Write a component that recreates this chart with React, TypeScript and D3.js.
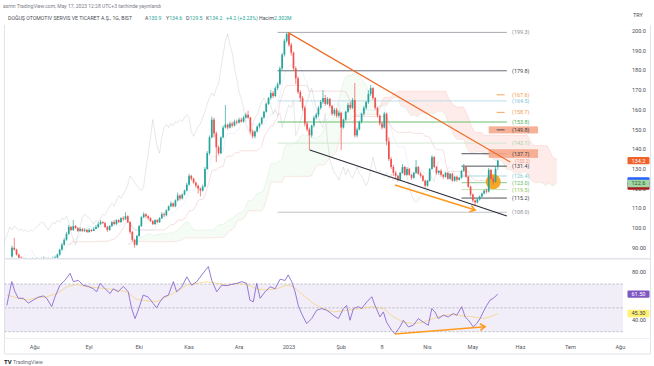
import React from 'react';
import * as d3 from 'd3';

// ---------- DATA ----------
const closes = [
  90, 89, 86.5, 85, 84.5, 83.5, 84, 83, 83.5, 84,
  83.5, 84, 83, 84, 84.5, 83.5, 84, 83.5, 84.5, 85,
  86.5, 89, 91.5, 94, 97, 100.5, 99, 101, 100, 98.5,
  99.5, 98.5, 99, 98, 99, 98.5, 99.5, 100.5, 102, 103,
  102.5, 100.5, 99, 101, 103, 102, 104, 103, 105, 104.5,
  106, 103, 98, 94, 91.5, 96, 101, 105.5, 107, 106,
  105, 103.5, 102, 104, 103, 105, 107, 106.5, 109, 111,
  112.5, 111, 114, 116.5, 115, 117, 119, 122, 126.5, 125,
  123, 121.5, 120, 119, 121, 130, 138, 146, 155, 148,
  141, 138, 146, 151, 152.5, 151, 153, 152, 154, 153.5,
  155, 154, 156, 157.5, 156, 149, 146.5, 149, 151.5, 153,
  156, 159, 163, 166, 168.5, 167, 171, 173, 181, 188,
  195, 198.5, 193, 189, 181, 176, 169, 166, 161, 153,
  150, 147, 152, 156, 157.5, 161, 164, 166, 163, 165.5,
  162, 158, 160, 157, 158.5, 151, 155, 159, 162.5, 161,
  165, 147, 150, 154, 158, 161, 164, 168, 171, 166,
  161, 157, 153, 151, 158, 144, 135, 131, 128, 126.5,
  124.5, 128, 131, 127, 130, 127, 125.5, 128, 131, 127.5,
  126.5, 124, 121.5, 124, 130, 136, 131, 128, 129, 127,
  126, 128, 125, 127.5, 124, 126, 124.5, 125.5, 129, 131,
  126, 121, 117, 114, 113, 114.5, 116, 117.5, 119, 118.5,
  129.5, 125, 123.5, 130, 134.2,
];
const highs = [
  91, 95, 89.5, 87, 85.5, 85, 85, 84.5, 84.5, 85,
  84.5, 85, 84.5, 85, 85.5, 85, 85, 84.5, 85.5, 86,
  87, 89.5, 92.5, 95, 98, 101.5, 101, 104, 101.5, 100.5,
  100.5, 100, 100, 99.5, 100, 99.5, 100.5, 101.5, 103, 104,
  103.5, 103, 101, 101.5, 103.5, 104, 104.5, 104.5, 105.5, 106,
  108, 106.5, 103.5, 98.5, 94.5, 96.5, 101.5, 106, 108, 107.5,
  106.5, 105.5, 104, 104.5, 104.5, 105.5, 108, 108, 109.5, 111.5,
  113.5, 113, 114.5, 118, 117, 117.5, 119.5, 123, 127.5, 127,
  125.5, 123.5, 122, 120.5, 122, 131, 139, 147, 156.5, 156,
  149, 142, 146.5, 152, 162.4, 153, 154, 154, 155, 155,
  156, 156, 157, 158.5, 159.5, 156.5, 150, 149.5, 152, 153.5,
  156.5, 159.5, 163.5, 166.5, 170, 169.5, 172, 174, 182, 189,
  196, 199.3, 199, 194, 189.5, 182, 177, 170, 167, 162,
  154, 151, 152.5, 157, 158.5, 162, 165, 170, 167.5, 166.5,
  166, 162.5, 161, 161, 159.5, 159, 155.5, 159.5, 163.5, 164,
  166, 173.6, 151, 154.5, 158.5, 162, 164.5, 170, 172.6, 171.5,
  166.5, 161.5, 157.5, 154, 159, 158.5, 146, 136, 132, 129,
  127, 128.5, 132.5, 131.5, 131, 130.5, 127.5, 128.5, 134.5, 131.5,
  128.5, 127, 124.5, 124.5, 130.5, 137, 136.5, 131.5, 129.5, 130,
  127.5, 128.5, 128.5, 128, 128, 126.5, 126.5, 126, 129.5, 132.5,
  131.5, 126.5, 121.5, 117.5, 114.5, 115, 116.5, 118, 119.5, 120,
  130.5, 130, 126, 131, 134.6,
];
const lows = [
  85, 88.5, 86, 84, 83.5, 82.5, 83, 82, 82.5, 83,
  82.5, 83, 82, 82.5, 83.5, 82.5, 83, 82.5, 83.5, 84,
  84.5, 86, 88.5, 91, 93.5, 96.5, 98.5, 98.5, 99.5, 98,
  98, 98, 98, 97.5, 97.5, 98, 98.5, 99.5, 100, 101.5,
  102, 100, 98, 98.5, 100.5, 101.5, 101.5, 102.5, 102.5, 103.5,
  104, 102.5, 97, 93, 90, 91, 95.5, 100.5, 105, 105,
  104, 103, 101.5, 101.5, 102.5, 102.5, 104.5, 105.5, 106, 108.5,
  110.5, 110.5, 110.5, 113.5, 114, 114.5, 116.5, 118.5, 121.5, 124,
  122.5, 120.5, 117.5, 116, 118.5, 120.5, 129.5, 137, 145.5, 146,
  133.5, 137, 137.5, 145.5, 150.5, 150, 150.5, 151, 151.5, 152.5,
  153, 153.5, 153.5, 155.5, 155.5, 148, 145.5, 145.5, 148.5, 150.5,
  152.5, 155.5, 158.5, 162.5, 165, 166, 166.5, 170, 172.5, 180,
  187, 194, 192, 187.5, 180, 173, 168, 164, 159.5, 151.5,
  149, 139.6, 146, 151, 155, 156.5, 160, 163, 162, 162.5,
  161, 157, 157, 156, 156, 139.6, 150.5, 154.5, 158.5, 160,
  160.5, 146, 146, 149.5, 153, 157, 160, 163, 167, 165,
  160, 156, 152, 150, 150.5, 142, 134, 130, 126.5, 125,
  123.5, 124, 127.5, 126.5, 126.5, 126.5, 124.5, 125, 127.5, 127,
  125.5, 123.5, 120.5, 121, 123.5, 129.5, 130.5, 127, 127, 126,
  125, 125.5, 124.5, 124.5, 123.5, 123.5, 123.5, 124, 125, 128.5,
  125.5, 120.5, 116, 113, 111.2, 112.5, 114, 115.5, 117, 117.5,
  118, 124.5, 122, 123, 129.5,
];
const firstOpen = 85.5;
const lastOpen = 130.9;

const monthLabels = ['Ağu', 'Eyl', 'Eki', 'Kas', 'Ara', '2023', 'Şub', '8', 'Nis', 'May', 'Haz', 'Tem', 'Ağu'];
const monthBars = [10, 34, 56, 78, 100, 122, 145, 163, 183, 203, 224, 246, 268];

const priceTicks = [90, 100, 110, 120, 130, 140, 150, 160, 170, 180, 190, 200];
const rsiTicks = [80, 40];
const rsiGuides = [70, 50, 30];

const rsiPoints: [number, number][] = [
  [-2.3, 52], [-0.1, 72], [1.3, 63.5], [2.8, 58], [5, 58], [7.2, 54], [9.4, 56.5], [11.6, 59], [13.8, 60], [15.3, 58],
  [17.5, 51], [18.9, 59], [21.1, 69], [23.3, 73], [25.6, 79], [27, 72], [29.2, 73], [31.4, 69], [33.6, 68], [35.8, 66],
  [37.3, 63.5], [38.8, 70.5], [41, 66], [43.2, 62], [44.6, 66], [46.8, 63.5], [49, 68], [51.2, 63.5], [52.7, 49.5], [54.2, 41],
  [55.6, 48], [57.8, 60.7], [60, 59], [62.2, 53.7], [63.7, 50], [65.2, 55], [66.7, 59], [68.9, 60.7], [71.1, 72], [72.5, 63.5],
  [74.8, 67.7], [77, 76], [79.2, 69], [81.4, 72], [83.6, 77.6], [86.5, 84.6], [88, 73], [90.2, 63.5], [92.4, 69], [94.6, 68.6],
  [96.8, 69.7], [99, 70.5], [101.2, 72], [103.4, 70.5], [104.8, 56.5], [106.3, 55], [107.8, 70.5], [109.3, 58], [111.5, 63.5], [113.7, 67.7],
  [115.9, 66], [118.1, 74], [120.3, 73], [121.7, 77.6], [123.2, 72], [124.7, 63.5], [126.1, 52], [127.6, 45], [129.8, 36.8], [132, 41],
  [134.2, 48], [136.4, 49.4], [138.6, 48], [140.1, 46], [141.5, 43.8], [143.8, 41], [146, 49.4], [147.4, 52], [148.9, 39.6], [150.4, 49.4],
  [152.6, 51], [154, 49.4], [156.3, 55], [158.5, 59.3], [159.9, 52], [162.1, 42.4], [163.6, 46.6], [165, 38], [167.3, 31], [168.7, 28.3],
  [170.9, 34], [172.4, 39.6], [174.6, 34], [176.8, 35.4], [179, 41], [181.2, 38], [183.4, 35.4], [184.9, 49.4], [186.3, 46.6], [187.8, 41],
  [190, 43.8], [192.2, 42.4], [194.4, 45.2], [195.9, 43.8], [198.1, 51], [199.6, 42.4], [201.1, 39.6], [203.2, 34], [204.7, 36.8], [206.2, 41],
  [207.6, 46.6], [209.1, 52], [210.6, 56.5], [212, 58], [214, 61.5],
];
const rsiMaPoints: [number, number][] = [
  [-2.3, 60.7], [2.1, 58.5], [6.5, 56.5], [10.9, 58.5], [15.3, 59.3], [19.7, 62], [24.1, 67.7], [28.5, 69.7], [32.9, 67.7], [37.3, 67],
  [41.7, 66], [46.1, 65], [50.5, 63.5], [54.9, 57], [59.3, 56], [63.7, 55], [68.1, 59.3], [72.5, 63.5], [77, 69], [81.4, 70.5],
  [85.8, 72], [90.2, 70.5], [94.6, 69], [99, 70.5], [103.4, 69.7], [107.8, 66], [112.2, 65], [116.6, 66], [121, 69], [123.9, 67.7],
  [128.3, 60.7], [132.7, 53.7], [137.1, 49.4], [141.5, 46.6], [147.4, 48], [153.3, 49.4], [159.2, 51], [163.6, 49.4], [168, 42.4], [172.4, 38],
  [176.8, 36.8], [181.2, 38], [185.6, 41], [190, 43.8], [194.4, 44.4], [198.8, 43.2], [203.2, 42.4], [207.6, 41], [210.6, 42.4], [214, 45.3],
];

// horizontal levels (drawings)
const longLevels = [199.3, 179.8, 164.5, 153.8, 143.1, 108.0];
const longLevelColors = ['#a6a9b0', '#6a6d78', '#bcdbe8', '#6cbf6f', '#cfe6cf', '#bfc2c8'];
const shortLevels = [137.7, 131.4, 126.4, 123.0, 119.5, 115.2];
const shortLevelColors = ['#50535e', '#50535e', '#a6d8de', '#86c98a', '#c2e2b2', '#50535e'];
const dashLevels = [167.6, 158.7, 149.8];
const dashLevelColors = ['#f7a35c', '#f7a35c', '#50535e'];
const labelPrices = [199.3, 179.8, 167.6, 164.5, 158.7, 153.8, 149.8, 143.1, 137.7, 133.2, 131.4, 126.4, 123.0, 119.5, 115.2, 108.0];
const labelColors = ['#8a8d96', '#3a3d46', '#f29a4a', '#86bedb', '#f29a4a', '#4caf50', '#3a3d46', '#a3d1a3', '#3a3d46', '#f0906e', '#3a3d46', '#80c8d0', '#5cb860', '#8bc34a', '#3a3d46', '#8a8d96'];
const boxTops = [151.6, 140.0];
const boxBottoms = [148.0, 135.6];

const orangeTrend: [number, number][] = [[121.5, 199.3], [219.5, 133.5]];
const blackTrend: [number, number][] = [[131.2, 139.6], [218, 106.1]];
const priceArrow: [number, number][] = [[168.7, 121.8], [204, 109.1]];
const rsiArrow: [number, number][] = [[168.7, 28.1], [208.4, 34.2]];
const circleMark: [number, number] = [212, 123.5];

const lastPrice = 134.2;
const ichiBadgeValues = [123.9, 121.3, 122.6];
const rsiLast = 61.5;
const rsiMaLast = 45.3;

// ---------- CHART ----------
const FONT = "Roboto, 'Liberation Sans', Arial, sans-serif";
const PL = 4.5, PR = 623, MT = 25, MB = 258, RT = 259.5, RB = 338;

export default function App() {
  const N = closes.length;
  const x = d3.scaleLinear().domain([0, N - 1]).range([12, 497.8]);
  const y = d3.scaleLinear().domain([90, 200]).range([247.7, 31]);
  const yr = d3.scaleLinear().domain([30, 70]).range([331.7, 284]);

  const opens = closes.map((c, i) => (i === 0 ? firstOpen : i === N - 1 ? lastOpen : closes[i - 1]));
  const mid = (i: number, len: number) => {
    const s = Math.max(0, i - len + 1);
    const hi = d3.max(highs.slice(s, i + 1)) as number;
    const lo = d3.min(lows.slice(s, i + 1)) as number;
    return (hi + lo) / 2;
  };
  const idx = d3.range(N);
  const tenkan = idx.map((i) => mid(i, 9));
  const kijun = idx.map((i) => mid(i, 26));
  const cloud = idx.filter((i) => i >= 25).map((i) => ({ b: i + 26, a: (tenkan[i] + kijun[i]) / 2, s: mid(i, 52) }));

  const lineP = d3.line<[number, number]>().x((d) => x(d[0])).y((d) => y(d[1]));
  const lineR = d3.line<[number, number]>().x((d) => x(d[0])).y((d) => yr(d[1]));
  const greenArea = d3.area<any>().x((d) => x(d.b)).y0((d) => y(d.s)).y1((d) => y(Math.max(d.a, d.s)));
  const redArea = d3.area<any>().x((d) => x(d.b)).y0((d) => y(d.a)).y1((d) => y(Math.max(d.a, d.s)));

  const tenkanPts = idx.filter((i) => i >= 8).map((i) => [i, tenkan[i]] as [number, number]);
  const kijunPts = idx.filter((i) => i >= 25).map((i) => [i, kijun[i]] as [number, number]);
  const chikouPts = idx.map((i) => [i - 26, closes[i]] as [number, number]);
  const spanAPts = cloud.map((c) => [c.b, c.a] as [number, number]);
  const spanBPts = cloud.map((c) => [c.b, c.s] as [number, number]);

  const arrowHead = (p1: [number, number], p2: [number, number], s: number) => {
    const a = Math.atan2(p2[1] - p1[1], p2[0] - p1[0]);
    const l = [p2[0] + s * Math.cos(a + 2.55), p2[1] + s * Math.sin(a + 2.55)];
    const r = [p2[0] + s * Math.cos(a - 2.55), p2[1] + s * Math.sin(a - 2.55)];
    return `M${l[0]},${l[1]}L${p2[0]},${p2[1]}L${r[0]},${r[1]}`;
  };
  const pa1: [number, number] = [x(priceArrow[0][0]), y(priceArrow[0][1])];
  const pa2: [number, number] = [x(priceArrow[1][0]), y(priceArrow[1][1])];
  const ra1: [number, number] = [x(rsiArrow[0][0]), yr(rsiArrow[0][1])];
  const ra2: [number, number] = [x(rsiArrow[1][0]), yr(rsiArrow[1][1])];

  const fmtP = (p: number) => (p < 100 ? p.toFixed(2) : p.toFixed(1));
  const axisColor = '#4a4d56';
  const badgeX = 627.5, badgeW = 22, badgeH = 7.4;

  return (
    <svg width={654} height={366} viewBox="0 0 654 366"
      style={{ position: 'absolute', left: 0, top: 0, background: '#fff', fontFamily: FONT }}>
      <defs>
        <clipPath id="mainClip"><rect x={PL} y={MT} width={PR - PL} height={MB - MT} /></clipPath>
        <clipPath id="rsiClip"><rect x={PL} y={RT} width={PR - PL} height={RB - RT} /></clipPath>
      </defs>
      <rect x={0} y={0} width={654} height={366} fill="#fff" />

      {/* header */}
      <text x={3} y={8} fontSize={5} fill="#7a7d86">asrnn TradingView.com, May 17, 2023 12:28 UTC+3 tarihinde yayınlandı</text>
      <g fontSize={5.2}>
        <text x={8} y={20} fill="#4a4d56">DOĞUŞ OTOMOTIV SERVIS VE TICARET A.Ş., 1G, BIST</text>
        <text x={145} y={20} fill="#4a4d56">A<tspan fill="#26a69a">130.9</tspan></text>
        <text x={166} y={20} fill="#4a4d56">Y<tspan fill="#26a69a">134.6</tspan></text>
        <text x={186} y={20} fill="#4a4d56">D<tspan fill="#26a69a">129.5</tspan></text>
        <text x={206} y={20} fill="#4a4d56">K<tspan fill="#26a69a">134.2</tspan></text>
        <text x={226} y={20} fill="#26a69a">+4.2 (+3.23%)</text>
        <text x={259} y={20} fill="#4a4d56">Hacim<tspan fill="#26a69a">2.302M</tspan></text>
      </g>
      <text x={638} y={17} fontSize={5.5} fill={axisColor} textAnchor="middle">TRY</text>

      {/* frame */}
      <line x1={PL} x2={PL} y1={MT} y2={354} stroke="#e0e3eb" strokeWidth={1} />
      <line x1={650.5} x2={650.5} y1={MT} y2={354} stroke="#e0e3eb" strokeWidth={1} />
      <line x1={PL} x2={650.5} y1={258.7} y2={258.7} stroke="#e0e3eb" strokeWidth={1.6} />
      <line x1={PL} x2={650.5} y1={338.5} y2={338.5} stroke="#eef0f3" strokeWidth={1} />
      <line x1={PL} x2={650.5} y1={354} y2={354} stroke="#e0e3eb" strokeWidth={1} />

      {/* main pane */}
      <g clipPath="url(#mainClip)">
        <path d={greenArea(cloud) || ''} fill="rgba(76,175,80,0.055)" />
        <path d={redArea(cloud) || ''} fill="rgba(244,100,80,0.12)" />
        <path d={lineP(spanAPts) || ''} fill="none" stroke="rgba(76,175,80,0.12)" strokeWidth={0.8} />
        <path d={lineP(spanBPts) || ''} fill="none" stroke="rgba(244,67,54,0.15)" strokeWidth={0.8} />
        <path d={lineP(chikouPts) || ''} fill="none" stroke="rgba(120,124,130,0.22)" strokeWidth={0.8} />
        <path d={lineP(kijunPts) || ''} fill="none" stroke="rgba(200,60,60,0.2)" strokeWidth={0.8} />
        <path d={lineP(tenkanPts) || ''} fill="none" stroke="rgba(41,98,255,0.1)" strokeWidth={0.8} />

        {longLevels.map((p, k) => (
          <line key={'ll' + k} x1={x(117)} x2={x(218)} y1={y(p)} y2={y(p)} stroke={longLevelColors[k]} strokeWidth={1} />
        ))}
        {shortLevels.map((p, k) => (
          <line key={'sl' + k} x1={x(198)} x2={x(218)} y1={y(p)} y2={y(p)} stroke={shortLevelColors[k]} strokeWidth={1} />
        ))}
        {boxTops.map((t, k) => (
          <rect key={'bx' + k} x={x(210)} y={y(t)} width={x(231.7) - x(210)} height={y(boxBottoms[k]) - y(t)} fill="#f5a98b" opacity={0.9} />
        ))}
        {dashLevels.map((p, k) => (
          <line key={'dl' + k} x1={x(213.5)} x2={x(217)} y1={y(p)} y2={y(p)} stroke={dashLevelColors[k]} strokeWidth={1} />
        ))}

        <circle cx={x(circleMark[0])} cy={y(circleMark[1])} r={7.5} fill="#f5a011" opacity={0.9} />

        {idx.map((i) => {
          const o = opens[i], c = closes[i];
          const col = c >= o ? '#26a69a' : '#ef5350';
          const top = y(Math.max(o, c)), bot = y(Math.min(o, c));
          return (
            <g key={i}>
              <line x1={x(i)} x2={x(i)} y1={y(highs[i])} y2={y(lows[i])} stroke={col} strokeWidth={0.7} />
              <rect x={x(i) - 0.85} y={top} width={1.7} height={Math.max(0.7, bot - top)} fill={col} />
            </g>
          );
        })}

        <line x1={x(orangeTrend[0][0])} y1={y(orangeTrend[0][1])} x2={x(orangeTrend[1][0])} y2={y(orangeTrend[1][1])} stroke="#ee6a25" strokeWidth={1.2} />
        <line x1={x(blackTrend[0][0])} y1={y(blackTrend[0][1])} x2={x(blackTrend[1][0])} y2={y(blackTrend[1][1])} stroke="#2a2e39" strokeWidth={1.2} />
        <line x1={pa1[0]} y1={pa1[1]} x2={pa2[0]} y2={pa2[1]} stroke="#ff9a1f" strokeWidth={1.6} />
        <path d={arrowHead(pa1, pa2, 6)} fill="none" stroke="#ff9a1f" strokeWidth={1.6} />

        {labelPrices.map((p, k) => {
          const crowded = k === 9;
          return (
            <text key={'lb' + k} x={x(220.3) + (crowded ? 3 : 0)} y={y(p) + (crowded ? 0.6 : 2)}
              fontSize={crowded ? 4.6 : 5.4} fill={labelColors[k]}>({p.toFixed(1)})</text>
          );
        })}
      </g>

      {/* price axis */}
      {priceTicks.map((p) => (
        <text key={'pt' + p} x={646} y={y(p) + 2} fontSize={5.6} fill={axisColor} textAnchor="end">{fmtP(p)}</text>
      ))}
      <rect x={badgeX} y={y(lastPrice) - badgeH / 2} width={badgeW} height={badgeH} rx={1} fill="#f0622a" />
      <text x={badgeX + badgeW / 2} y={y(lastPrice) + 2} fontSize={5.6} fill="#fff" textAnchor="middle">{lastPrice.toFixed(1)}</text>
      <rect x={badgeX} y={y(ichiBadgeValues[0]) - badgeH / 2} width={badgeW} height={badgeH} rx={1} fill="#2962ff" />
      <rect x={badgeX} y={y(ichiBadgeValues[1]) - badgeH / 2} width={badgeW} height={badgeH} rx={1} fill="#a51d1d" />
      <rect x={badgeX} y={y(ichiBadgeValues[2]) - badgeH / 2} width={badgeW} height={badgeH} rx={1} fill="#a5d6a7" />
      <text x={badgeX + badgeW / 2} y={y(ichiBadgeValues[2]) + 2} fontSize={5.6} fill="#1b5e20" textAnchor="middle">{ichiBadgeValues[2].toFixed(1)}</text>

      {/* RSI pane */}
      <g clipPath="url(#rsiClip)">
        <rect x={PL} y={yr(70)} width={PR - PL} height={yr(30) - yr(70)} fill="rgba(126,87,194,0.1)" />
        {rsiGuides.map((v) => (
          <line key={'rg' + v} x1={PL} x2={PR} y1={yr(v)} y2={yr(v)} stroke="#a7a9b3" strokeWidth={0.8} strokeDasharray="2,2" />
        ))}
        <path d={lineR(rsiMaPoints) || ''} fill="none" stroke="rgba(240,205,90,0.6)" strokeWidth={1} />
        <path d={lineR(rsiPoints) || ''} fill="none" stroke="#8a6bd0" strokeWidth={0.9} />
        <line x1={ra1[0]} y1={ra1[1]} x2={ra2[0]} y2={ra2[1]} stroke="#ff9a1f" strokeWidth={1.6} />
        <path d={arrowHead(ra1, ra2, 6)} fill="none" stroke="#ff9a1f" strokeWidth={1.6} />
      </g>
      {rsiTicks.map((v) => (
        <text key={'rt' + v} x={646} y={yr(v) + 2} fontSize={5.6} fill={axisColor} textAnchor="end">{v.toFixed(2)}</text>
      ))}
      <rect x={badgeX} y={yr(rsiLast) - badgeH / 2} width={badgeW} height={badgeH} rx={1} fill="#7e57c2" />
      <text x={badgeX + badgeW / 2} y={yr(rsiLast) + 2} fontSize={5.6} fill="#fff" textAnchor="middle">{rsiLast.toFixed(2)}</text>
      <rect x={badgeX} y={yr(rsiMaLast) - badgeH / 2} width={badgeW} height={badgeH} rx={1} fill="#fff176" />
      <text x={badgeX + badgeW / 2} y={yr(rsiMaLast) + 2} fontSize={5.6} fill="#3a3d46" textAnchor="middle">{rsiMaLast.toFixed(2)}</text>

      {/* time axis */}
      {monthLabels.map((m, k) => (
        <text key={'m' + k} x={x(monthBars[k])} y={349} fontSize={5.6} fill="#555862" textAnchor="middle">{m}</text>
      ))}

      {/* logo */}
      <text x={4} y={364} fontSize={6} fontWeight="bold" fill="#131722">TV</text>
      <text x={13} y={364} fontSize={5.4} fill="#6a6d78">TradingView</text>
    </svg>
  );
}
